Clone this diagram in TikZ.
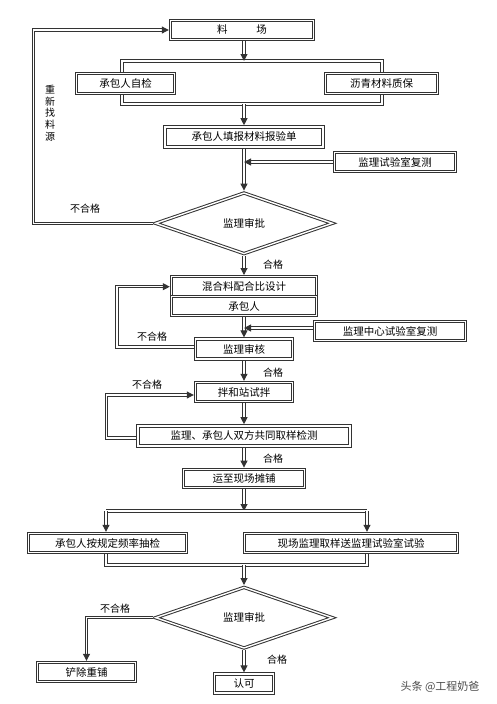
\documentclass[tikz,border=0pt]{standalone}
\usepackage{fontspec}
\setmainfont{Noto Sans CJK SC}
\usetikzlibrary{arrows.meta,positioning,shapes.geometric,calc}
\definecolor{lineC}{HTML}{333333}

\begin{document}
\begin{tikzpicture}[
    x=1pt, y=-1pt, % pixel-like units, y grows downward
    >={Triangle[length=7pt,width=7pt]}, % filled arrow heads
    dline/.style={draw=lineC, line width=1pt, double, double distance=1.4pt},
    box/.style={dline, fill=white, inner sep=0pt, outer sep=1.7pt, minimum height=19pt,
        font=\fontsize{10.5}{12}\selectfont},
    check/.style={diamond, dline, fill=white, inner sep=0pt, outer sep=1.7pt,
        minimum width=178pt, minimum height=62pt, font=\fontsize{10.5}{12}\selectfont},
    lbl/.style={font=\fontsize{10}{12}\selectfont},
    node distance=20pt
]
\fill[white] (0,0) rectangle (496,704);
\useasboundingbox (0,0) rectangle (496,704);

% Split and join bars (drawn first, boxes sit on top)
\coordinate (b1) at (244,61);
\coordinate (b1l) at (122,61);
\coordinate (b1r) at (382,61);
\coordinate (b2) at (244,104);
\coordinate (b2l) at (122,104);
\coordinate (b2r) at (382,104);
\draw[dline] (b1l) -- (b1r) -- (b2r) -- (b2l) -- cycle;

% Main column
\node[box, minimum width=143pt] (liao) at (242,30) {料\hspace{29pt}场};
\node[box, minimum width=158pt, minimum height=20pt] (tianbao) [below=84pt of liao, xshift=2pt] {承包人填报材料报验单};
\node[check] (shenpi) [below=42pt of tianbao] {监理审批};
\node[box, minimum width=145pt, minimum height=20pt] (hunhe) [below=19pt of shenpi] {混合料配合比设计};
\node[box, minimum width=145pt] (chengbao) [below=-3.4pt of hunhe] {承包人};
\node[box, minimum width=97pt, minimum height=20pt] (shenhe) [below=20pt of chengbao] {监理审核};
\node[box, minimum width=97pt] (banhe) [below=20pt of shenhe] {拌和站试拌};
\node[box, minimum width=212pt, minimum height=20pt] (quyang) [below=21pt of banhe] {监理、承包人双方共同取样检测};
\node[box, minimum width=121pt, minimum height=18pt] (yunzhi) [below=20pt of quyang] {运至现场摊铺};
\node[check] (shenpi2) [below=96pt of yunzhi] {监理审批};
\node[box, minimum width=59pt] (renke) [below=22pt of shenpi2] {认可};

% Side boxes
\node[box, minimum width=98pt, minimum height=20pt] (zijian) at (125.5,83.5) {承包人自检};
\node[box, minimum width=112pt, minimum height=20pt] (zhibao) at (381.5,83.5) {沥青材料质保};
\node[box, minimum width=121pt] (fuce) at (395,162) {监理试验室复测};
\node[box, minimum width=151pt] (zhongxin) at (390,331) {监理中心试验室复测};
\node[box, minimum width=158pt] (choujian) at (107.5,543) {承包人按规定频率抽检};
\node[box, minimum width=213pt] (songjian) at (351,543) {现场监理取样送监理试验室试验};
\node[box, minimum width=98pt] (chanchu) at (86.5,672) {铲除重铺};

% Second split and join bars
\coordinate (b3) at (244,511);
\coordinate (b3l) at (106,511);
\coordinate (b3r) at (367,511);
\coordinate (b4) at (244,565);
\coordinate (b4l) at (106,565);
\coordinate (b4r) at (367,565);

% Edges
\draw[dline, ->] (liao.south -| b1) -- (b1);
\draw[dline, ->] (b2) -- (b2 |- tianbao.north);
\draw[dline, ->] (tianbao.south -| shenpi.north) -- (shenpi);
\draw[dline, ->] (fuce.west) -- (fuce.west -| shenpi.north);
\draw[dline, ->] (shenpi.west) -- ++(-120,0) |- (liao.west);
\draw[dline, ->] (shenpi) -- (hunhe.north -| shenpi.south);
\draw[dline, ->] (chengbao.south -| shenhe.north) -- (shenhe);
\draw[dline, ->] ([yshift=3pt]zhongxin.west) -- ([yshift=3pt]zhongxin.west -| shenhe.north);
\draw[dline, ->] ([yshift=2pt]shenhe.west) -- ++(-77,0) |- (hunhe.west);
\draw[dline, ->] (shenhe) -- (banhe);
\draw[dline, ->] (banhe) -- (quyang);
\draw[dline, ->] ([yshift=-2pt]quyang.west) -- ++(-30,0) |- ([yshift=-3pt]banhe.west);
\draw[dline, ->] (quyang) -- (yunzhi);
\draw[dline, ->] (yunzhi) -- (b3);
\draw[dline] (b3l) -- (b3r);
\draw[dline, ->] (b3l) -- (b3l |- choujian.north);
\draw[dline, ->] (b3r) -- (b3r |- songjian.north);
\draw[dline] (b4l |- choujian.south) -- (b4l) -- (b4r) -- (b4r |- songjian.south);
\draw[dline, ->] (b4) -- (shenpi2);
\draw[dline, ->] (shenpi2.west) -| (chanchu.north);
\draw[dline, ->] (shenpi2) -- (renke);

% Labels
\node[lbl] (bhg1) at (85,209) {不合格};
\node[lbl, align=center, font=\fontsize{10}{11.7}\selectfont] (zhao) at (50,113) {重\\新\\找\\料\\源};
\node[lbl] (hg1) at (273,265) {合格};
\node[lbl] (bhg2) at (152,337) {不合格};
\node[lbl] (hg2) at (273,373) {合格};
\node[lbl] (bhg3) at (147,385) {不合格};
\node[lbl] (hg3) at (273,459) {合格};
\node[lbl] (bhg4) at (115,609) {不合格};
\node[lbl] (hg4) at (277,660) {合格};
\node[font=\fontsize{11}{13}\selectfont, text=black!70] (mark) at (440,687) {头条 @工程奶爸};

\end{tikzpicture}
\end{document}
